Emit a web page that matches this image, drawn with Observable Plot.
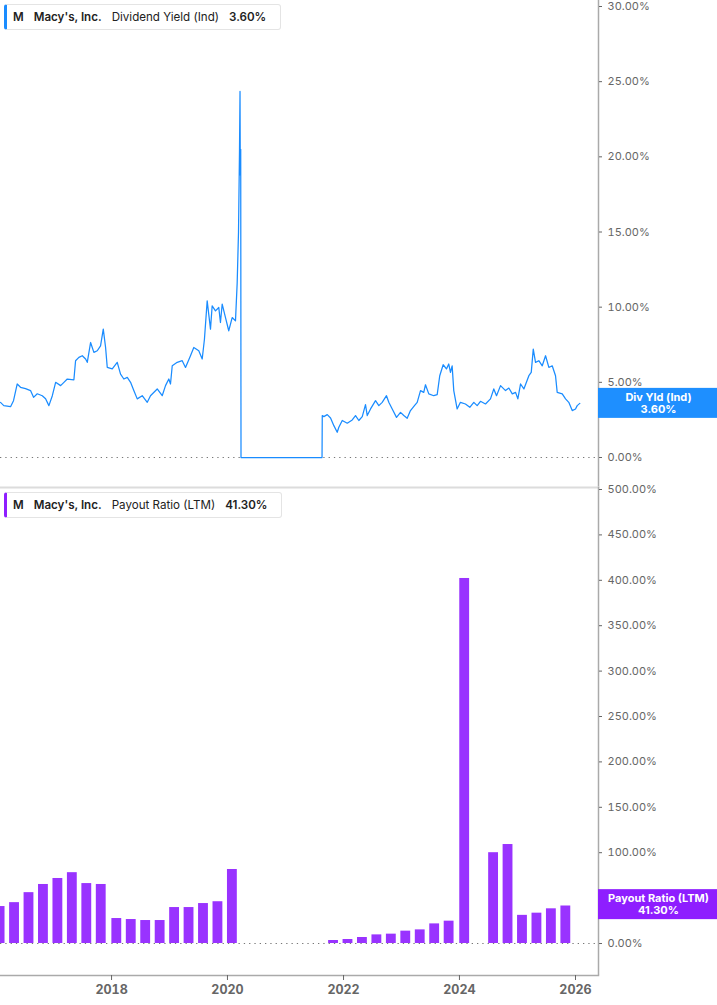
<!DOCTYPE html>
<html><head><meta charset="utf-8">
<script src="https://cdn.jsdelivr.net/npm/d3@7"></script>
<script src="https://cdn.jsdelivr.net/npm/@observablehq/plot@0.6"></script>
<style>
body{margin:0;background:#fff;font-family:Inter,sans-serif;}
#wrap{position:relative;width:717px;height:1005px;overflow:hidden;background:#fff;}
#wrap svg{display:block;}
.legend{position:absolute;left:4px;height:26px;border:1px solid #e4e4e4;border-left:3px solid #1a8cff;border-radius:3px;background:#fff;font-size:11.6px;color:#222;display:flex;align-items:center;padding-left:6px;padding-right:14px;box-sizing:border-box;white-space:nowrap;}
.legend span{margin-right:10px;}
.legend span:last-child{margin-right:0;}
.b{font-weight:600;}
</style></head>
<body>
<div id="wrap"></div>
<script>
// ---- Dividend Yield (Ind), % — time as decimal year ----
const divT = [2016.086,2016.143,2016.259,2016.310,2016.374,2016.431,2016.517,2016.603,2016.655,2016.719,2016.805,2016.862,2016.919,2016.978,
2017.035,2017.121,2017.178,2017.236,2017.350,2017.379,2017.436,2017.495,2017.552,2017.581,2017.638,2017.695,2017.753,2017.810,2017.857,2017.897,2017.926,
2018.012,2018.098,2018.155,2018.212,2018.271,2018.328,2018.384,2018.443,2018.529,2018.616,2018.672,2018.788,2018.874,2018.931,2018.988,
2019.017,2019.047,2019.133,2019.219,2019.276,2019.362,2019.419,2019.505,2019.564,2019.603,2019.650,2019.707,2019.736,2019.793,2019.850,2019.879,2019.909,2019.966,
2020.022,2020.081,2020.138,2020.167,2020.190,2020.207,2020.216,2020.221,2020.228,2020.233,
2021.629,2021.633,2021.660,2021.719,2021.776,2021.833,2021.891,2021.919,2021.978,
2022.064,2022.150,2022.207,2022.264,2022.323,2022.379,2022.409,2022.466,2022.552,2022.609,2022.667,2022.741,2022.781,2022.840,2022.914,2022.983,
2023.040,2023.098,2023.155,2023.224,2023.271,2023.328,2023.384,2023.414,2023.471,2023.557,2023.616,2023.660,2023.719,2023.776,2023.815,2023.845,2023.874,2023.902,2023.960,
2024.017,2024.103,2024.178,2024.247,2024.305,2024.362,2024.448,2024.534,2024.591,2024.638,2024.707,2024.793,2024.850,2024.909,2024.966,
2025.005,2025.052,2025.109,2025.195,2025.236,2025.271,2025.310,2025.367,2025.426,2025.483,2025.540,2025.598,2025.655,2025.684,2025.771,2025.828,2025.884,2025.943,
2026.000,2026.029,2026.074];
const divYield = [3.67,3.45,3.38,3.78,4.89,4.67,4.58,4.45,4.00,4.24,4.11,3.91,3.45,4.11,
5.00,4.78,5.00,5.22,5.17,6.44,6.66,6.77,6.55,6.33,7.65,6.99,7.10,7.43,8.54,7.32,5.99,
5.89,6.33,5.55,5.22,5.33,5.00,4.45,3.90,4.11,3.67,4.11,4.56,4.11,4.78,5.22,
4.89,6.10,6.33,6.44,5.99,6.77,7.32,7.10,6.55,7.88,10.42,8.54,10.09,9.75,9.98,8.98,10.20,9.31,
8.43,9.31,9.09,11.60,15.00,20.40,24.35,18.80,20.50,0,
0,2.79,2.72,2.85,2.63,2.12,1.68,2.01,2.46,
2.28,2.50,2.79,2.46,2.72,3.52,2.79,3.23,3.78,3.45,3.67,4.11,3.67,3.23,2.67,3.00,
2.79,2.61,3.12,3.45,3.67,4.45,4.33,4.84,4.23,4.11,4.18,5.44,6.17,5.89,6.22,5.66,6.10,4.45,3.23,
3.67,3.56,3.34,3.67,3.45,3.74,3.56,3.90,4.56,4.11,4.78,4.45,4.62,4.23,4.33,
3.90,4.89,4.56,5.44,5.66,7.21,6.33,6.44,6.10,6.77,5.99,6.10,5.44,4.33,4.23,3.90,3.67,3.12,
3.23,3.45,3.60];

// ---- Payout Ratio (LTM), % — fiscal quarter ends ----
const quarterEnds = ["2016-01-30","2016-04-30","2016-07-30","2016-10-29","2017-01-28","2017-04-29","2017-07-29","2017-10-28",
"2018-02-03","2018-05-05","2018-08-04","2018-11-03","2019-02-02","2019-05-04","2019-08-03","2019-11-02",
"2020-02-01","2020-05-02","2020-08-01","2020-10-31","2021-01-30","2021-05-01","2021-07-31","2021-10-30",
"2022-01-29","2022-04-30","2022-07-30","2022-10-29","2023-01-28","2023-04-29","2023-07-29","2023-10-28",
"2024-02-03","2024-05-04","2024-08-03","2024-11-02","2025-02-01","2025-05-03","2025-08-02","2025-11-01"];
const payoutRatio = [40.7,45,56,65,71.6,78,66,65,
27.5,26.4,25.3,25.3,39.6,39.6,44,46,
81.5,null,null,null,null,null,null,3.3,
4.4,6.6,9.5,10.3,13.6,15,21.6,24.6,
402,null,100,109,31,33.4,38.2,41.3];

const yTicksTop = [0,5,10,15,20,25,30];
const yTicksBottom = [0,50,100,150,200,250,300,350,400,450,500];
const xTickYears = [2018,2020,2022,2024,2026];
const xRangeYears = [2016.0862, 2026.3966];

const company = "Macy's, Inc.";
const ticker = "M";
const lastYield = 3.60;
const lastPayout = 41.30;

// ---- helpers ----
const toDate = t => { const y = Math.floor(t); const s = Date.UTC(y,0,1), e = Date.UTC(y+1,0,1); return new Date(s + (t - y) * (e - s)); };
const W = 717, MR = 119;
const BLUE = "#1a8cff", PURPLE = "#9933ff";
const xDomain = xRangeYears.map(toDate);
const xTicks = xTickYears.map(y => new Date(Date.UTC(y,0,1)));
const pct = d => d.toFixed(2) + "%";

const divData = divT.map((t,i) => ({date: toDate(t), v: divYield[i]}));
const barData = quarterEnds.map((s,i) => ({date: new Date(s + "T00:00:00Z"), v: payoutRatio[i]})).filter(d => d.v != null);

const baseStyle = {fontFamily: "Inter, sans-serif", fontSize: "11px", background: "transparent", overflow: "visible"};

const topChart = Plot.plot({
  width: W, height: 487, marginLeft: 0, marginRight: MR, marginTop: 0, marginBottom: 0,
  style: baseStyle,
  x: {type: "utc", domain: xDomain, axis: null},
  y: {domain: [0,30], insetTop: 6, insetBottom: 30, axis: null},
  marks: [
    Plot.ruleY([0], {stroke: "#777", strokeDasharray: "1.3,4"}),
    Plot.line(divData, {x: "date", y: "v", stroke: BLUE, strokeWidth: 1.25}),
    Plot.ruleX([xDomain[1]], {stroke: "#aaa", strokeWidth: 1.5}),
    Plot.axisY({anchor: "right", label: null, ticks: yTicksTop, tickFormat: pct, tickSize: 3, tickPadding: 6, color: "#666", fontSize: 11})
  ]
});

const bottomChart = Plot.plot({
  width: W, height: 518, marginLeft: 0, marginRight: MR, marginTop: 0, marginBottom: 30,
  style: baseStyle,
  x: {type: "utc", domain: xDomain, axis: null},
  y: {domain: [0,500], insetTop: 2, insetBottom: 32, axis: null},
  marks: [
    Plot.frame({anchor: "top", stroke: "#dcdcdc", strokeWidth: 2}),
    Plot.ruleY([0], {stroke: "#777", strokeDasharray: "1.3,4"}),
    Plot.rectY(barData, {x1: d => d3.utcDay.offset(d.date, -31), x2: d => d3.utcDay.offset(d.date, 31), y: "v", fill: PURPLE}),
    Plot.ruleX([xDomain[1]], {stroke: "#aaa", strokeWidth: 1.5}),
    Plot.frame({anchor: "bottom", stroke: "#aaa", strokeWidth: 1.5}),
    Plot.axisX({label: null, ticks: xTicks, tickFormat: d3.utcFormat("%Y"), tickSize: 5, tickPadding: 5, color: "#666", fontSize: 12.5, fontWeight: "bold"}),
    Plot.axisY({anchor: "right", label: null, ticks: yTicksBottom, tickFormat: pct, tickSize: 3, tickPadding: 6, color: "#666", fontSize: 11})
  ]
});

function tag(chart, value, color, l1, l2) {
  const yc = chart.scale("y").apply(value);
  const g = d3.select(chart).append("g");
  g.append("rect").attr("x", W - MR).attr("y", yc - 15).attr("width", MR).attr("height", 30).attr("fill", color);
  const t = g.append("text").attr("text-anchor", "middle").attr("fill", "#fff")
    .attr("font-weight", "bold").attr("font-size", 11).attr("font-family", "Inter, sans-serif");
  t.append("tspan").attr("x", W - MR / 2 + 1).attr("y", yc - 2).text(l1);
  t.append("tspan").attr("x", W - MR / 2 + 1).attr("y", yc + 10).text(l2);
}
tag(topChart, lastYield, "#1e8fff", "Div Yld (Ind)", pct(lastYield));
tag(bottomChart, lastPayout + 1.5, "#8e1eff", "Payout Ratio (LTM)", pct(lastPayout));

const wrap = document.getElementById("wrap");
wrap.appendChild(topChart);
wrap.appendChild(bottomChart);

function legend(top, color, metric, value) {
  const d = document.createElement("div");
  d.className = "legend";
  d.style.top = top + "px";
  d.style.borderLeftColor = color;
  d.innerHTML = `<span class="b">${ticker}</span><span class="b">${company}</span><span>${metric}</span><span class="b">${value}</span>`;
  wrap.appendChild(d);
}
legend(4, BLUE, "Dividend Yield (Ind)", pct(lastYield));
legend(492, "#8e1eff", "Payout Ratio (LTM)", pct(lastPayout));
</script>
</body></html>
